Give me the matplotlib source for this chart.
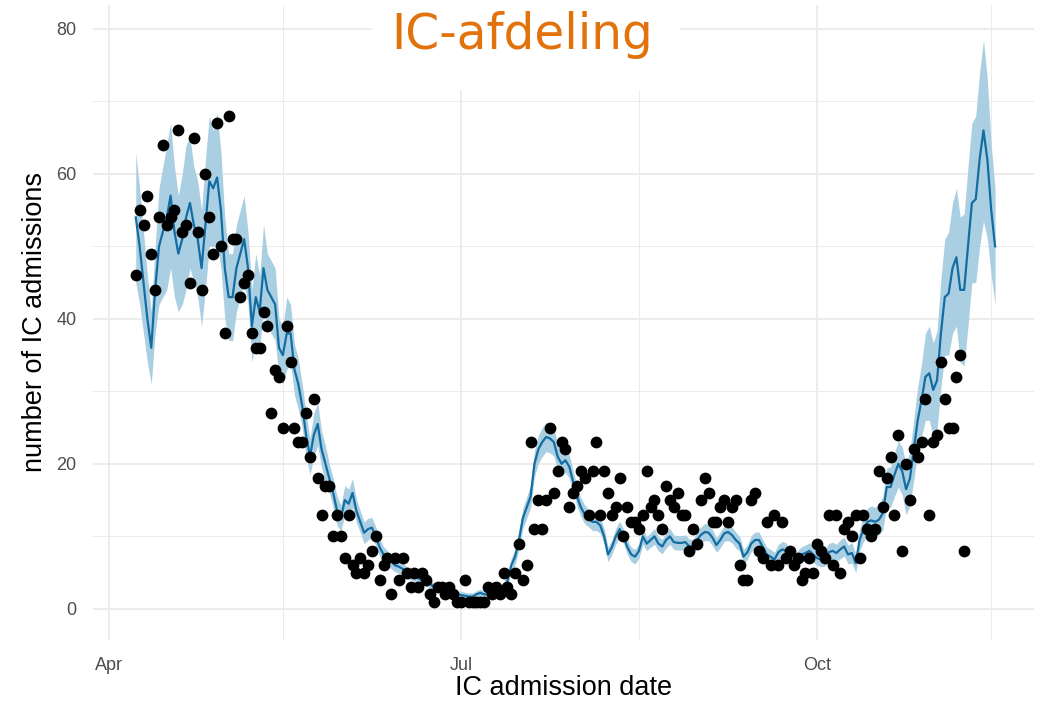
import numpy as np
import pandas as pd
import matplotlib
matplotlib.use("Agg")
import matplotlib.pyplot as plt
import matplotlib.dates as mdates
from matplotlib.patches import Rectangle

# daily IC admissions (observed), starting 8 April 2020
obs_start = "2020-04-08"
admissions = [
    46, 55, 53, 57, 49, 44, 54, 64, 53, 54,
    55, 66, 52, 53, 45, 65, 52, 44, 60, 54,
    49, 67, 50, 38, 68, 51, 51, 43, 45, 46,
    38, 36, 36, 41, 39, 27, 33, 32, 25, 39,
    34, 25, 23, 23, 27, 21, 29, 18, 13, 17,
    17, 10, 13, 10, 7, 13, 6, 5, 7, 5,
    6, 8, 10, 4, 6, 7, 2, 7, 4, 7,
    5, 3, 5, 3, 5, 4, 2, 1, 3, 3,
    2, 3, 2, 1, 1, 4, 1, 1, 1, 1,
    1, 3, 2,
    3, 2, 5, 3, 2, 5, 9, 4, 6, 23,
    11, 15, 11, 15, 25, 16, 19, 23, 22, 14,
    16, 17, 19, 18, 13, 19, 23, 13, 19, 16,
    13, 14, 18, 10, 14, 12, 12, 11, 13, 19,
    14, 15,
    13, 11, 17, 15, 14, 16, 13, 13, 8, 11,
    9, 15, 18, 16, 12, 12, 14, 15, 12, 14,
    15, 6, 4, 4,
    15, 16, 8, 7, 12, 6, 13, 6, 12, 7, 8, 6, 7,
    4, 5, 7, 5, 9, 8, 7, 13, 6, 13,
    5, 11, 12, 10, 13, 7, 13, 11, 10, 11,
    19, 14, 18, 21, 13, 24, 8, 20, 15, 22,
    21, 23, 29, 13, 23, 24, 34, 29, 25, 25,
    32, 35, 8,
]

# model estimate and half-width of its uncertainty band
fit_start = "2020-04-08"
fit_mean = [
    54, 50, 45, 40, 36, 44, 50, 52, 54, 57,
    52, 49, 51, 54, 56, 53, 51, 47, 53, 59,
    58, 59.5, 55, 47, 43, 43, 47, 49, 51, 47,
    39, 43, 41, 47, 44, 43, 42, 36, 35, 38,
    38, 33, 31, 28, 24, 21, 24, 25.5, 22, 20,
    18, 16, 13.5, 12.5, 15, 14.5, 16, 13.5, 12, 10.5,
    11, 11.2, 10, 8.5, 7.5, 7, 6.5, 6, 5.8, 5.5,
    5, 4.8, 4.5, 4.2, 4, 3.8, 3.5, 3, 3, 2.8,
    2.6, 2.5, 2.2, 2, 1.9, 1.8, 1.7, 1.7, 2, 2.2,
    2, 2, 2, 2.2, 2.4, 3, 3.8, 6, 7.2, 9.5,
    12.5, 14, 15.5, 20, 22, 23, 23.7, 23.5, 23, 21,
    20, 20.5, 19.6, 17.5, 15.5, 14, 13, 12.5, 12, 12,
    11.5, 10, 7.5, 8.5, 10, 11, 10, 8.5, 7.5, 7.2,
    8, 10, 9, 9.5, 10, 9, 8.6, 9.5, 10, 9.2,
    9.1, 9.1, 9.2, 8.6, 8.6, 9.5, 10.2, 10.6, 10.5, 9.8,
    8.8, 9.5, 10.4, 10.6, 10.2, 9.5, 9, 7.2, 7.8, 9,
    9.5, 9.5, 8.5, 7.5, 7.2, 6.8, 7.8, 8.2, 8, 6.8,
    6.3, 7, 7.5, 7.7, 8, 7.5, 7, 6.8, 7, 7.8,
    8, 7.7, 8.2, 8.6, 7.5, 7.7, 6.3, 9.5, 11, 12,
    12.2, 12, 12.3, 13.2, 16.8, 16.8, 18.5, 20, 19, 16.5,
    18, 22, 26, 28.8, 32, 32.5, 30.2, 31.5, 38, 43,
    43.5, 47, 48.5, 44, 44, 50, 56, 56.5, 62, 66,
    62, 55, 50,
]
fit_halfwidth = [
    9, 8, 7, 6, 5, 6, 8, 9, 10, 10,
    9, 8, 9, 10, 9, 8, 8, 8, 9, 9,
    8, 9, 8, 7, 6, 6, 6, 6, 6, 5,
    5, 6, 5, 6, 5, 5, 5, 4, 4, 5,
    4, 3.5, 3.5, 3, 3, 2.5, 3, 3, 2.5, 2.5,
    2, 2, 2, 1.8, 2, 2, 2, 1.6, 1.5, 1.5,
    1.5, 1.4, 1.3, 1.2, 1.1, 1, 1, 0.9, 0.9, 0.8,
    0.8, 0.8, 0.7, 0.7, 0.7, 0.7, 0.6, 0.6, 0.6, 0.6,
    0.6, 0.6, 0.5, 0.5, 0.5, 0.5, 0.5, 0.5, 0.5, 0.5,
    0.5, 0.5, 0.5, 0.5, 0.6, 0.7, 0.8, 1, 1.1, 1.3,
    1.4, 1.5, 1.6, 1.8, 1.9, 2, 2, 2, 1.9, 1.8,
    1.7, 1.7, 1.6, 1.5, 1.4, 1.3, 1.3, 1.2, 1.2, 1.2,
    1.1, 1.1, 1, 1, 1.1, 1.1, 1, 1, 1, 1,
    1, 1.1, 1, 1, 1.1, 1, 1, 1.1, 1.1, 1,
    1, 1, 1, 1, 1, 1.1, 1.1, 1.2, 1.1, 1.1,
    1, 1.1, 1.1, 1.2, 1.1, 1.1, 1, 1, 1, 1.1,
    1.1, 1.1, 1, 1, 1, 1, 1.1, 1.1, 1.1, 1,
    1, 1, 1.1, 1.1, 1.1, 1.1, 1, 1, 1.1, 1.2,
    1.2, 1.2, 1.3, 1.3, 1.3, 1.4, 1.3, 1.5, 1.7, 1.9,
    2, 2, 2.1, 2.3, 2.6, 2.8, 3, 3.2, 3.3, 3.5,
    3.8, 4.2, 4.6, 5, 6, 6.5, 6.5, 6.8, 7.5, 8,
    8.5, 9, 9.5, 10, 10.5, 11, 11, 11.5, 12, 12.5,
    11, 9, 8,
]

obs_dates = pd.date_range(obs_start, periods=len(admissions), freq="D")
fit_dates = pd.date_range(fit_start, periods=len(fit_mean), freq="D")
mean = np.array(fit_mean)
half = np.array(fit_halfwidth)

plt.rcParams['font.family'] = ['Liberation Sans Narrow', 'Liberation Sans', 'DejaVu Sans']

fig = plt.figure(figsize=(10.46, 7.03), dpi=100)
ax = fig.add_axes([93 / 1046, 63 / 703, 941 / 1046, 635 / 703])

ax.fill_between(fit_dates, mean - half, mean + half, color="#abcfe2", lw=0, zorder=2)
ax.plot(fit_dates, mean, color="#136da2", lw=1.6, zorder=3)
ax.scatter(obs_dates, admissions, s=72, color="black", lw=0, zorder=4)

# x range padded 5% around the data span, like ggplot
x0 = mdates.date2num(pd.Timestamp("2020-04-08"))
x1 = mdates.date2num(pd.Timestamp("2020-11-15"))
pad = 0.05 * (x1 - x0)
ax.set_xlim(x0 - pad, x1 + pad)
ax.set_ylim(-4.3, 83.3)

major_x = pd.to_datetime(["2020-04-01", "2020-07-01", "2020-10-01"])
minor_x = pd.to_datetime(["2020-05-16", "2020-08-16", "2020-11-15"])
ax.set_xticks(major_x)
ax.set_xticklabels(["Apr", "Jul", "Oct"])
ax.set_xticks(minor_x, minor=True)
ax.set_yticks([0, 20, 40, 60, 80])
ax.set_yticks([10, 30, 50, 70], minor=True)

ax.grid(which="major", color="#ebebeb", lw=1.3, zorder=0)
ax.grid(which="minor", color="#ebebeb", lw=0.7, zorder=0)
ax.set_axisbelow(True)
for s in ax.spines.values():
    s.set_visible(False)
ax.tick_params(which="both", length=0)
ax.tick_params(axis="y", labelsize=13, labelcolor="#4d4d4d", pad=12)
ax.tick_params(axis="x", labelsize=13, labelcolor="#4d4d4d", pad=12)

ax.set_xlabel("IC admission date", fontsize=19.5, va="center")
ax.set_ylabel("number of IC admissions", fontsize=19.5, va="center")
ax.xaxis.set_label_coords(0.5, (640 - 688) / 635)
ax.yaxis.set_label_coords((35 - 93) / 941, 0.5)

# title sits on a white patch over the top of the panel
fig.patches.append(Rectangle((372 / 1046, 1 - 90 / 703), 308 / 1046, 90 / 703,
                             transform=fig.transFigure, facecolor="white",
                             edgecolor="none", zorder=5))
fig.text(522 / 1046, 1 - 35 / 703, "IC-afdeling", fontsize=35, color="#e2720b",
         ha="center", va="center", family=["DejaVu Sans"], zorder=6)

fig.savefig("out.png", dpi=100)
